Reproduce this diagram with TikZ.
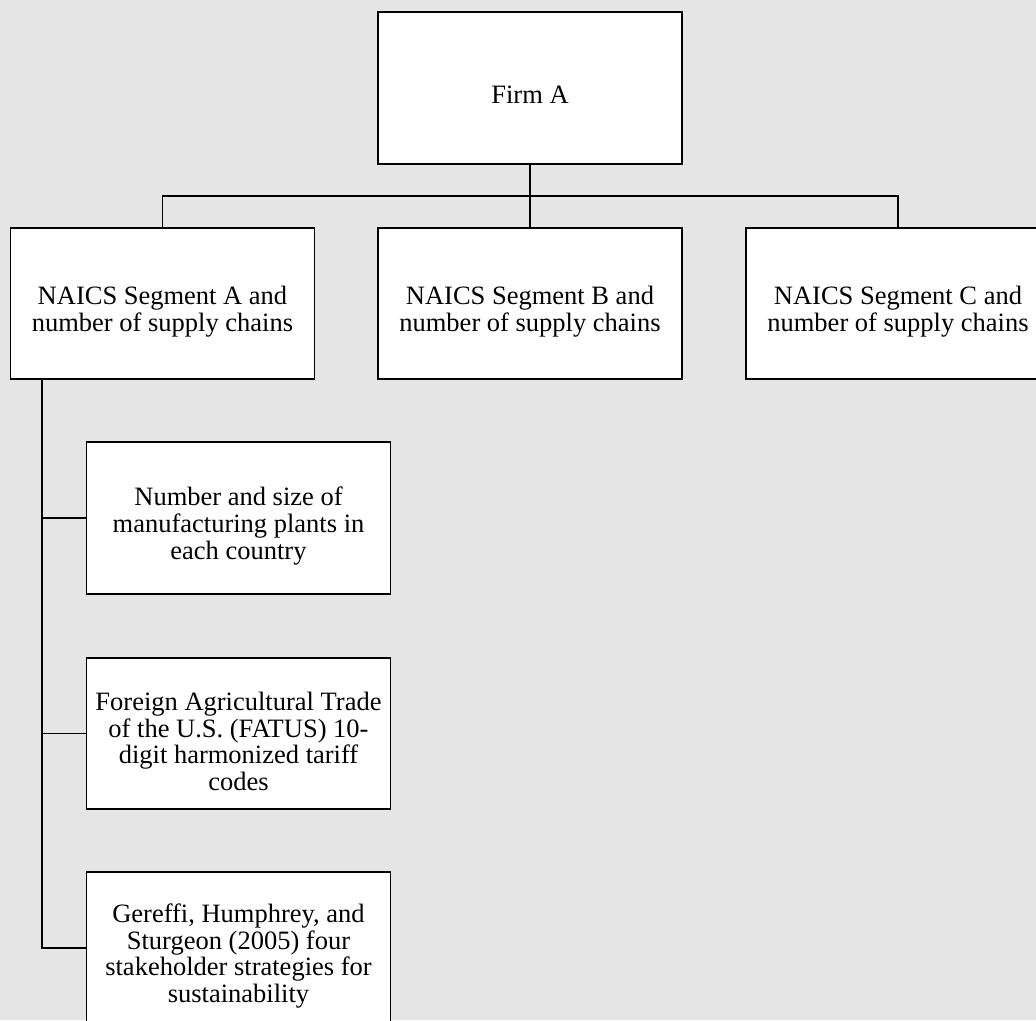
\documentclass[tikz,border=0pt]{standalone}
\usepackage{fontspec}
\setmainfont{Liberation Serif}
\usetikzlibrary{calc}
\begin{document}
\begin{tikzpicture}[x=1pt,y=-1pt,
  box/.style={draw=black, line width=1.3pt, fill=white, inner sep=0pt,
    minimum width=304pt, minimum height=151pt},
  txt/.style={align=center, font=\fontsize{26.5}{26.6}\selectfont, inner sep=0pt, yshift=-8pt},
  conn/.style={draw=black, line width=1.3pt}]
\fill[black!10!white] (0,0) rectangle (1036,1020);
\useasboundingbox (0,0) rectangle (1036,1020);
\clip (0,0) rectangle (1036,1020);
\node[box, minimum height=152pt, label={[txt, yshift=1pt]center:Firm A}] (firm) at (530,88) {};
\node[box, label={[txt]center:{NAICS Segment A and\\number of supply chains}}] (A) at (162.5,303.5) {};
\node[box, label={[txt]center:{NAICS Segment B and\\number of supply chains}}] (B) at (530,303.5) {};
\node[box, label={[txt]center:{NAICS Segment C and\\number of supply chains}}] (C) at (898,303.5) {};
\node[box, minimum height=152pt, label={[txt]center:{Number and size of\\manufacturing plants in\\each country}}] (n1) at (238.5,518) {};
\node[box, label={[txt]center:{Foreign Agricultural Trade\\of the U.S. (FATUS) 10-\\digit harmonized tariff\\codes}}] (n2) at (238.5,733.5) {};
\node[box, minimum height=152pt, label={[txt]center:{Gereffi, Humphrey, and\\Sturgeon (2005) four\\stakeholder strategies for\\sustainability}}] (n3) at (238.5,948) {};
\coordinate (bus) at (530,196);
\coordinate (spine) at (42,379);
\draw[conn] (firm.south) -- (bus);
\draw[conn] (A.north) |- (bus) -| (C.north);
\draw[conn] (bus) -- (B.north);
\draw[conn] (spine) |- (n3.west);
\draw[conn] (spine |- n1.west) -- (n1.west);
\draw[conn] (spine |- n2.west) -- (n2.west);
\end{tikzpicture}
\end{document}
